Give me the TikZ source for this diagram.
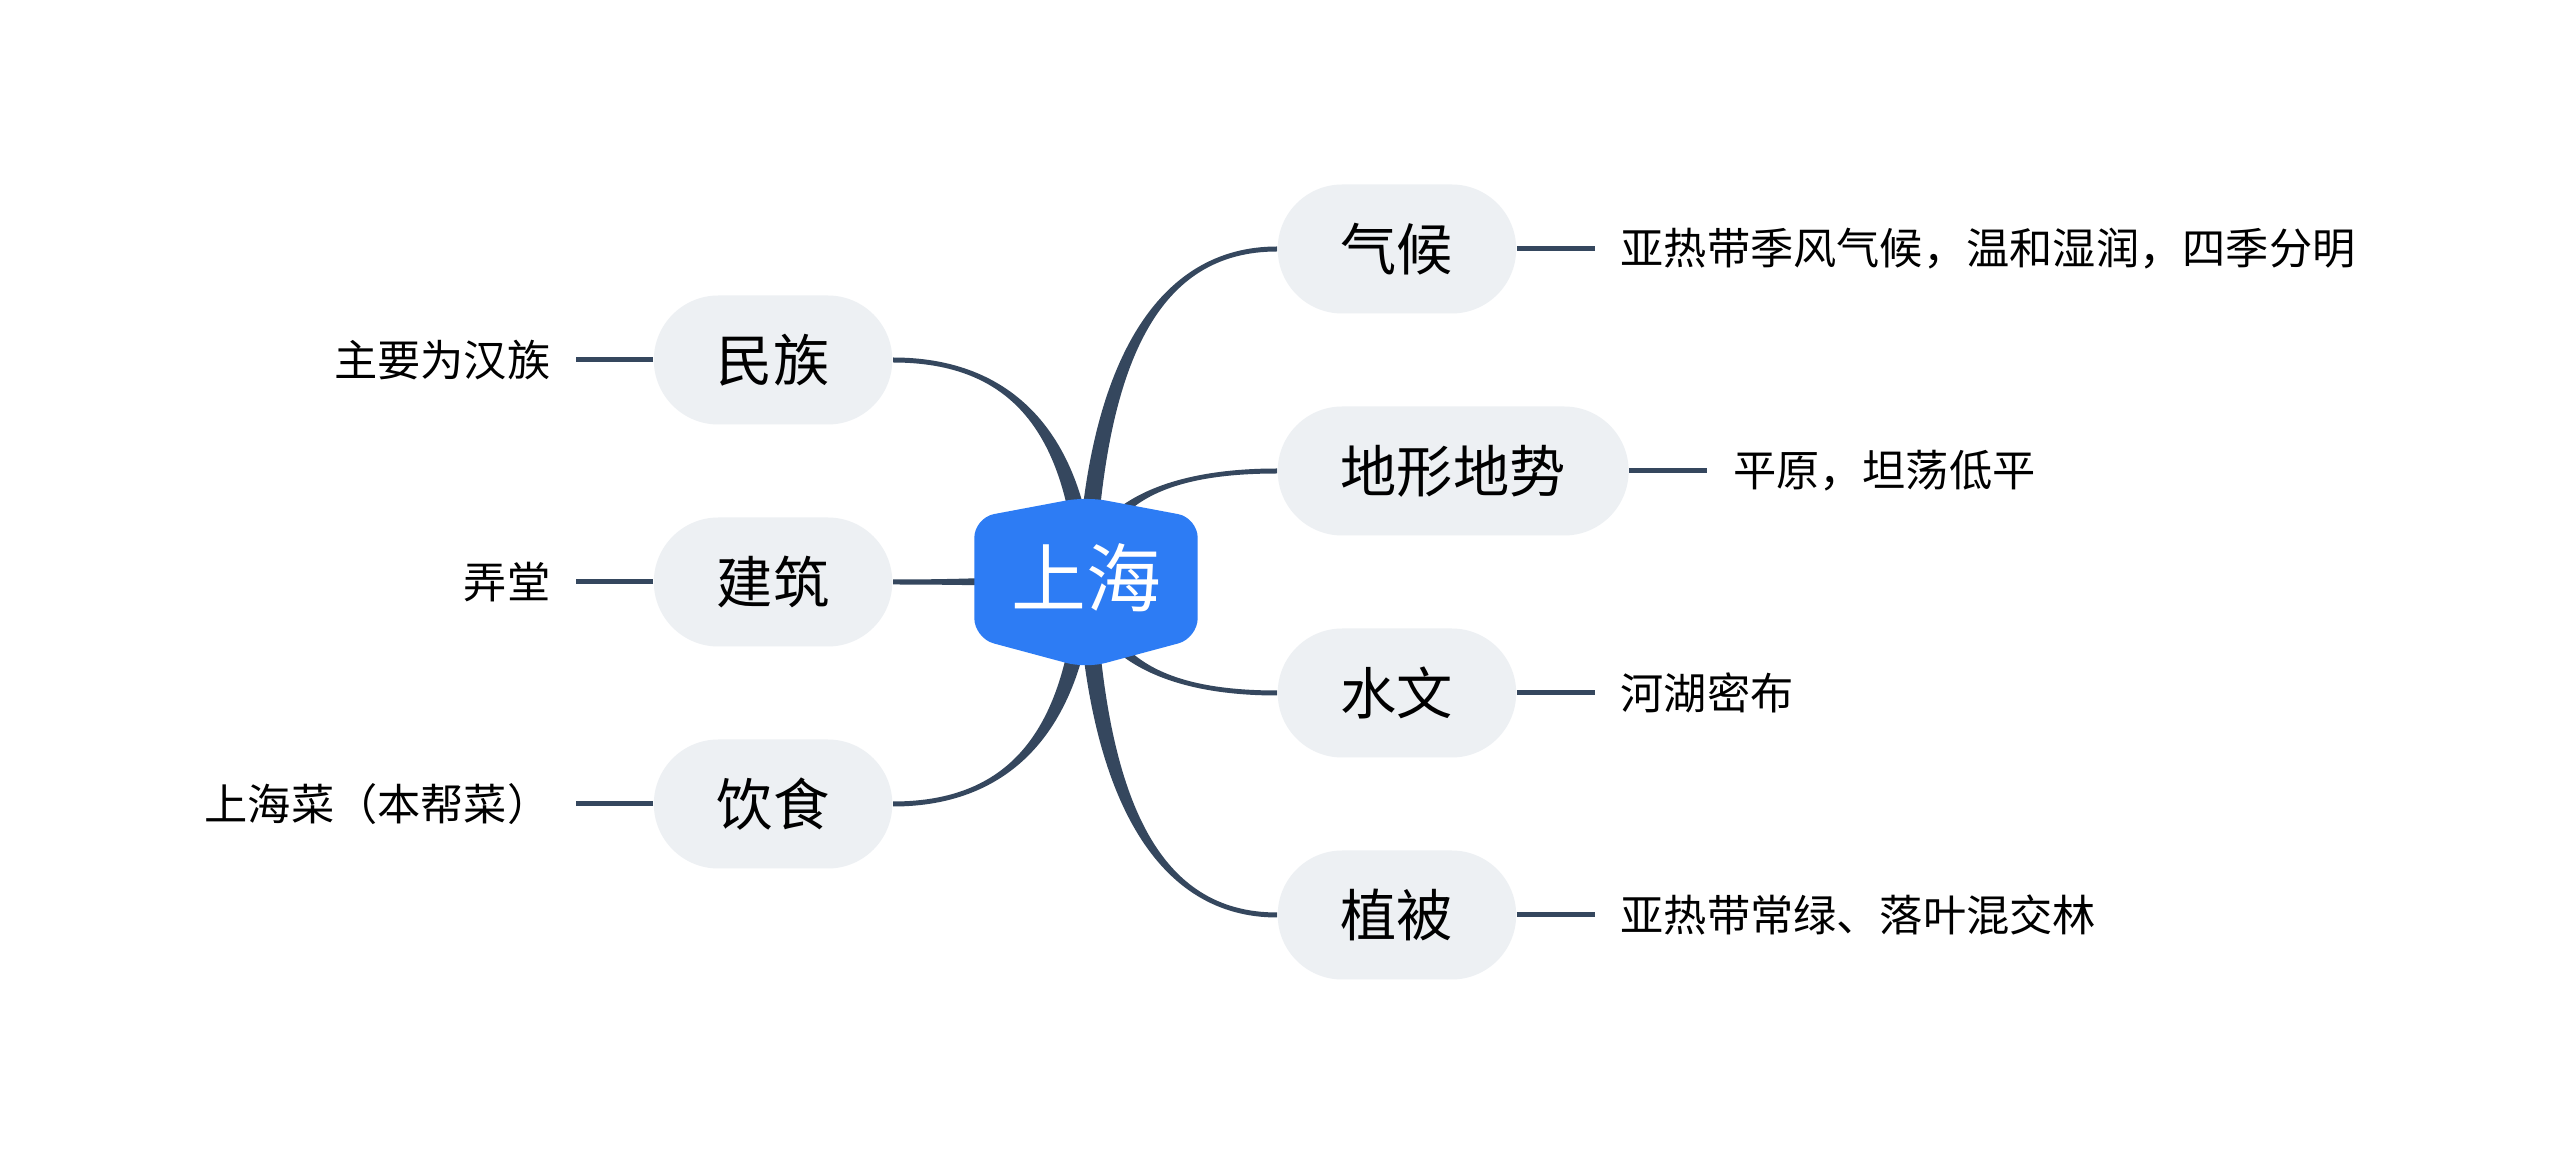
\documentclass[tikz,border=0pt]{standalone}
\usepackage{fontspec}
\newfontfamily\cjk{Noto Sans CJK SC}
\usetikzlibrary{calc,positioning}
\pgfdeclarelayer{background}
\pgfsetlayers{background,main}

\definecolor{hubblue}{HTML}{2D7CF4}
\definecolor{linkgray}{HTML}{35475E}
\definecolor{topicbg}{HTML}{EDF0F3}

% tapered link from the hub to a topic:
% #1 topic anchor, #2 bend shift, #3 half width at hub, #4 half width at topic
\newcommand*{\branchlink}[4]{%
	\fill[linkgray]
		($(hub)+(#3)$)
		.. controls ($(hub)!0.667!(hub|-#1)+(#2,0)+(#3)$) and ($(#1)!0.667!(hub|-#1)+(#2,0)+(#4)$)
		.. ($(#1)+(#4)$) -- ($(#1)-(#4)$)
		.. controls ($(#1)!0.667!(hub|-#1)+(#2,0)-(#4)$) and ($(hub)!0.667!(hub|-#1)+(#2,0)-(#3)$)
		.. ($(hub)-(#3)$) -- cycle;}

\begin{document}
\begin{tikzpicture}
[
	x=0.1mm, y=-0.1mm,
	centre/.style={rectangle,minimum width=22.2mm,minimum height=11.9mm,inner sep=0pt,text=white,font=\cjk\fontsize{21.3pt}{24pt}\selectfont},
	topic/.style={rectangle,rounded corners=6.45mm,fill=topicbg,minimum height=12.9mm,inner xsep=6.3mm,inner ysep=0pt,font=\cjk\fontsize{16pt}{19pt}\selectfont},
	leaf/.style={inner xsep=2.5mm,inner ysep=0pt,font=\cjk\fontsize{12.3pt}{15pt}\selectfont},
	twig/.style={draw=linkgray,line width=0.5mm},
]

	\useasboundingbox (0,0) rectangle (2560,1166);

	% central topic
	\node[centre] (hub) at (1086,578) {上海};

	% main topics
	\node[topic,anchor=west] (qh) at (1277,249) {气候};
	\node[topic,anchor=west] (dx) at (1277,471) {地形地势};
	\node[topic,anchor=west] (sw) at (1277,693) {水文};
	\node[topic,anchor=west] (zb) at (1277,915) {植被};
	\node[topic,anchor=east] (mz) at (893,360) {民族};
	\node[topic,anchor=east] (jz) at (893,582) {建筑};
	\node[topic,anchor=east] (ys) at (893,804) {饮食};

	% details
	\node[leaf,right=7.8mm of qh] (qh1) {亚热带季风气候，温和湿润，四季分明};
	\node[leaf,right=7.8mm of dx] (dx1) {平原，坦荡低平};
	\node[leaf,right=7.8mm of sw] (sw1) {河湖密布};
	\node[leaf,right=7.8mm of zb] (zb1) {亚热带常绿、落叶混交林};
	\node[leaf,left=7.7mm of mz] (mz1) {主要为汉族};
	\node[leaf,left=7.7mm of jz] (jz1) {弄堂};
	\node[leaf,left=7.7mm of ys] (ys1) {上海菜（本帮菜）};

	\foreach \a/\b in {qh/qh1,dx/dx1,sw/sw1,zb/zb1}
		\draw[twig] (\a.east) -- (\b.west);
	\foreach \a/\b in {mz/mz1,jz/jz1,ys/ys1}
		\draw[twig] (\a.west) -- (\b.east);

	% canvas, links, and the hexagon over them
	\begin{pgfonlayer}{background}
		\fill[white] (0,0) rectangle (2560,1166);
		\branchlink{qh.west}{10}{-9,0}{0,-2.5}
		\branchlink{dx.west}{10}{-9,0}{0,-2.5}
		\branchlink{sw.west}{10}{-9,0}{0,2.5}
		\branchlink{zb.west}{10}{-9,0}{0,2.5}
		\branchlink{mz.east}{-10}{9,0}{0,-2.5}
		\branchlink{jz.east}{0}{0,-9}{0,-2.5}
		\branchlink{ys.east}{-10}{9,0}{0,2.5}
		\fill[hubblue,rounded corners=2mm] (hub.north west) -- ([yshift=2.1mm]hub.north) -- (hub.north east)
			-- (hub.south east) -- ([yshift=-3mm]hub.south) -- (hub.south west) -- cycle;
	\end{pgfonlayer}

\end{tikzpicture}
\end{document}
